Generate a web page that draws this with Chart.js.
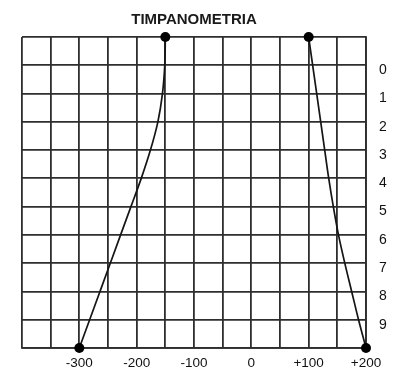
<!DOCTYPE html>
<html>
<head>
<meta charset="utf-8">
<script src="https://cdn.jsdelivr.net/npm/chart.js@4/dist/chart.umd.min.js"></script>
<style>
  html, body { margin: 0; padding: 0; background: #fff; }
  #wrap { width: 417px; height: 383px; position: relative; }
</style>
</head>
<body>
<div id="wrap"><canvas id="c" width="417" height="383"></canvas></div>
<script>
// Data
const titleText = 'TIMPANOMETRIA';
const levels = [-1, 0, 1, 2, 3, 4, 5, 6, 7, 8, 9, 10];           // vertical positions (top -> bottom)
const leftCurveX = [-150, -151, -155, -163, -176, -192, -210, -228, -246, -264, -282, -300];
const rightCurveX = [100, 107, 114, 121, 128, 135, 143, 152, 163, 175, 187, 200];
const xTickLabels = [-300, -200, -100, 0, 100, 200];
const yTickLabels = [0, 1, 2, 3, 4, 5, 6, 7, 8, 9];

const toPoints = (xs) => xs.map((x, i) => ({ x: x, y: levels[i] }));
const endRadius = (n) => Array.from({ length: n }, (_, i) => (i === 0 || i === n - 1) ? 5 : 0);

const FONT = "'Liberation Sans', Arial, Helvetica, sans-serif";
const INK = '#151515';
const GRID = '#2e2e2e';

const curveStyle = {
  borderColor: INK,
  borderWidth: 1.7,
  cubicInterpolationMode: 'monotone',
  indexAxis: 'y',
  clip: false,
  pointBackgroundColor: '#000',
  pointBorderColor: '#000',
  pointBorderWidth: 0,
  fill: false
};

new Chart(document.getElementById('c'), {
  type: 'line',
  data: {
    datasets: [
      Object.assign({ data: toPoints(leftCurveX), pointRadius: endRadius(leftCurveX.length) }, curveStyle),
      Object.assign({ data: toPoints(rightCurveX), pointRadius: endRadius(rightCurveX.length) }, curveStyle)
    ]
  },
  options: {
    responsive: false,
    animation: false,
    layout: { padding: { left: 22, right: 0, top: 0, bottom: 0 } },
    plugins: {
      legend: { display: false },
      tooltip: { enabled: false },
      title: {
        display: true,
        text: titleText,
        fullSize: false,
        color: '#1a1a1a',
        font: { family: FONT, size: 15, weight: 'bold' },
        padding: { top: 11, bottom: 8 }
      }
    },
    scales: {
      x: {
        type: 'linear',
        min: -400,
        max: 200,
        afterFit: (s) => { s.height = 35; },
        grid: { color: GRID, lineWidth: 1.8, drawTicks: false },
        border: { color: GRID, width: 1.8 },
        ticks: {
          stepSize: 50,
          padding: 7,
          color: '#111',
          font: { family: FONT, size: 13.5 },
          maxRotation: 0,
          autoSkip: false,
          callback: (v) => {
            if (!xTickLabels.includes(v)) return '';
            return v > 0 ? '+' + v : String(v);
          }
        }
      },
      y: {
        type: 'linear',
        position: 'right',
        reverse: true,
        min: -1,
        max: 10,
        afterFit: (s) => { s.width = 51; },
        grid: { color: GRID, lineWidth: 1.8, drawTicks: false },
        border: { color: GRID, width: 1.8 },
        ticks: {
          stepSize: 1,
          padding: 13,
          labelOffset: 5,
          color: '#111',
          font: { family: FONT, size: 14 },
          autoSkip: false,
          callback: (v) => yTickLabels.includes(v) ? String(v) : ''
        }
      }
    }
  }
});
</script>
</body>
</html>
